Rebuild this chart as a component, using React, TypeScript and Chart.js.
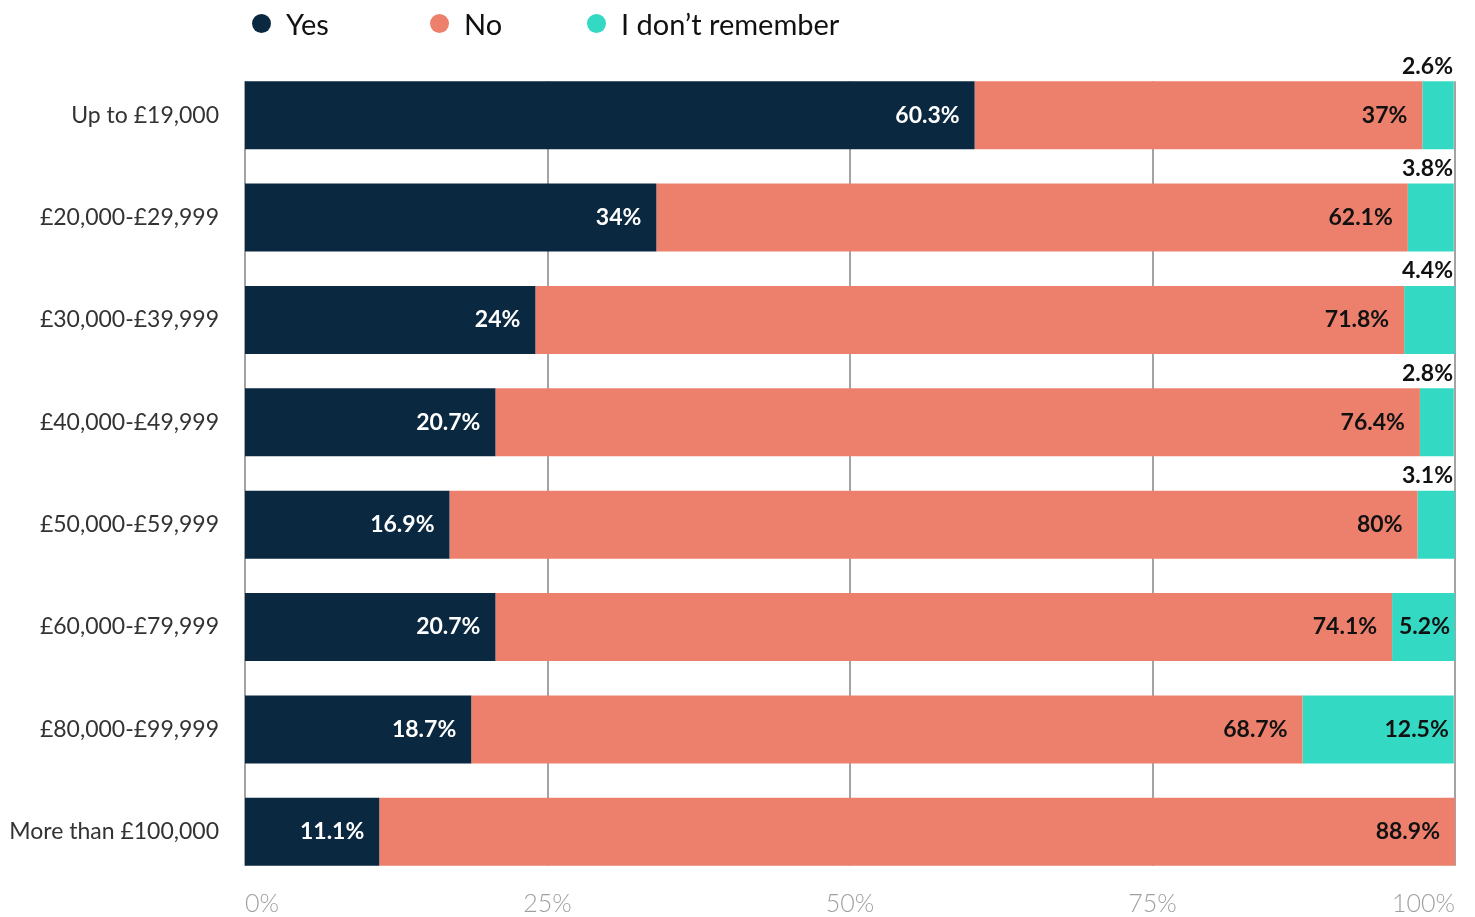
import React, { useEffect, useRef } from "react";
import { Chart, registerables } from "chart.js";

Chart.register(...registerables);

const categories = [
  "Up to £19,000",
  "£20,000-£29,999",
  "£30,000-£39,999",
  "£40,000-£49,999",
  "£50,000-£59,999",
  "£60,000-£79,999",
  "£80,000-£99,999",
  "More than £100,000",
];
const seriesNames = ["Yes", "No", "I don\u2019t remember"];
const yesValues = [60.3, 34, 24, 20.7, 16.9, 20.7, 18.7, 11.1];
const noValues = [37, 62.1, 71.8, 76.4, 80, 74.1, 68.7, 88.9];
const dontRememberValues = [2.6, 3.8, 4.4, 2.8, 3.1, 5.2, 12.5, 0];
const xTicks = [0, 25, 50, 75, 100];

const COLORS = ["#0B2841", "#EC806C", "#34D9C4"];
const LABEL_COLORS = ["#ffffff", "#111111", "#111111"];
const LEGEND_WIDTHS = [178, 157, undefined];

const FONT = "Lato, 'Open Sans', sans-serif";

const gridPlugin = {
  id: "customGrid",
  beforeDatasetsDraw(chart: any) {
    const x = chart.scales.x;
    const meta0 = chart.getDatasetMeta(0);
    const first = meta0.data[0];
    const last = meta0.data[meta0.data.length - 1];
    if (!first || !last) return;
    const top = first.y - first.height / 2;
    const bottom = last.y + last.height / 2;
    const ctx = chart.ctx;
    ctx.save();
    ctx.strokeStyle = "#a3a3a3";
    ctx.lineWidth = 2;
    x.ticks.forEach((t: any) => {
      const px = Math.round(x.getPixelForValue(t.value));
      ctx.beginPath();
      ctx.moveTo(px, top);
      ctx.lineTo(px, bottom);
      ctx.stroke();
    });
    ctx.restore();
  },
};

const labelPlugin = {
  id: "barLabels",
  afterDatasetsDraw(chart: any) {
    const ctx = chart.ctx;
    ctx.save();
    ctx.font = `bold 23px ${FONT}`;
    ctx.textBaseline = "middle";
    ctx.textAlign = "right";
    chart.data.datasets.forEach((ds: any, i: number) => {
      const meta = chart.getDatasetMeta(i);
      meta.data.forEach((bar: any, j: number) => {
        const v = ds.data[j];
        if (!v) return;
        const text = `${v}%`;
        const tw = ctx.measureText(text).width;
        const right = Math.min(bar.x, chart.chartArea.right);
        const width = right - bar.base;
        ctx.fillStyle = LABEL_COLORS[i];
        if (i === 2) {
          if (width < tw + 10) {
            ctx.fillText(text, chart.chartArea.right - 2, bar.y - bar.height / 2 - 15);
          } else {
            ctx.fillText(text, right - 5, bar.y);
          }
        } else {
          ctx.fillText(text, right - 15, bar.y);
        }
      });
    });
    ctx.restore();
  },
};

export default function App() {
  const canvasRef = useRef<HTMLCanvasElement>(null);

  useEffect(() => {
    if (!canvasRef.current) return;
    const chart = new Chart(canvasRef.current, {
      type: "bar",
      data: {
        labels: categories,
        datasets: [yesValues, noValues, dontRememberValues].map((d, i) => ({
          label: seriesNames[i],
          data: d,
          backgroundColor: COLORS[i],
          borderWidth: 0,
          barPercentage: 0.664,
          categoryPercentage: 1,
        })),
      },
      options: {
        indexAxis: "y",
        responsive: false,
        animation: false,
        layout: { padding: { top: 64, right: 20, left: 0, bottom: 0 } },
        plugins: {
          legend: { display: false },
          tooltip: { enabled: false },
        },
        scales: {
          x: {
            stacked: true,
            min: 0,
            max: 100,
            afterBuildTicks(scale: any) {
              scale.ticks = xTicks.map((v) => ({ value: v }));
            },
            ticks: {
              callback: (v: any) => `${v}%`,
              align: "inner",
              padding: -2,
              color: "#a0a0a0",
              font: { family: FONT, size: 25, weight: "300" },
              maxRotation: 0,
            },
            grid: { display: false },
            border: { display: false },
            afterFit(scale: any) {
              scale.height = 34;
            },
          },
          y: {
            stacked: true,
            ticks: {
              padding: 18,
              color: "#333333",
              font: { family: FONT, size: 23 },
            },
            grid: { display: false },
            border: { display: false },
            afterFit(scale: any) {
              scale.width = 245;
            },
          },
        },
      } as any,
      plugins: [gridPlugin, labelPlugin],
    });
    return () => chart.destroy();
  }, []);

  return (
    <div style={{ position: "absolute", left: 0, top: 0, width: 1475, height: 917, background: "#fff" }}>
      <canvas ref={canvasRef} width={1475} height={917} style={{ position: "absolute", left: 0, top: 0 }} />
      <div
        style={{
          position: "absolute",
          left: 252,
          top: 0,
          height: 46,
          display: "flex",
          alignItems: "center",
          fontFamily: FONT,
          fontSize: 29,
          color: "#111",
        }}
      >
        {seriesNames.map((name, i) => (
          <div key={name} style={{ display: "flex", alignItems: "center", width: LEGEND_WIDTHS[i] }}>
            <span
              style={{
                display: "inline-block",
                width: 19,
                height: 19,
                borderRadius: "50%",
                background: COLORS[i],
                marginRight: 15,
              }}
            />
            <span>{name}</span>
          </div>
        ))}
      </div>
    </div>
  );
}
